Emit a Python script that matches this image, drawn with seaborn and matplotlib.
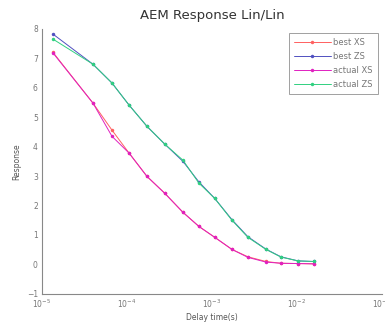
import numpy as np
import pandas as pd
import matplotlib
matplotlib.use("Agg")
import matplotlib.pyplot as plt
import seaborn as sns

times = [1.35e-5, 3.98e-5, 6.67e-5, 1.06e-4, 1.72e-4, 2.80e-4, 4.56e-4, 7.03e-4,
         1.08e-3, 1.72e-3, 2.65e-3, 4.32e-3, 6.48e-3, 1.03e-2, 1.58e-2]
best_xs = [7.20, 5.48, 4.56, 3.78, 2.99, 2.41, 1.77, 1.29, 0.92, 0.51, 0.26, 0.10, 0.04, 0.03, 0.02]
best_zs = [7.82, 6.80, 6.16, 5.41, 4.69, 4.08, 3.50, 2.80, 2.24, 1.52, 0.94, 0.52, 0.26, 0.12, 0.10]
actual_xs = [7.18, 5.48, 4.35, 3.78, 2.99, 2.41, 1.77, 1.29, 0.92, 0.51, 0.24, 0.08, 0.04, 0.03, 0.02]
actual_zs = [7.65, 6.80, 6.16, 5.41, 4.69, 4.08, 3.54, 2.76, 2.24, 1.50, 0.92, 0.51, 0.25, 0.12, 0.10]
series_names = ["best XS", "best ZS", "actual XS", "actual ZS"]
series_colors = ["#ff6060", "#5050c0", "#e020c0", "#30d080"]

frames = []
for name, vals in zip(series_names, [best_xs, best_zs, actual_xs, actual_zs]):
    frames.append(pd.DataFrame({"time": times, "value": vals, "series": name}))
df = pd.concat(frames, ignore_index=True)

sns.set_style("white")
plt.rcParams["font.family"] = ["DejaVu Sans"]

fig = plt.figure(figsize=(3.85, 3.28), dpi=100)
ax = fig.add_axes([0.109, 0.104, 0.883, 0.808])

sns.lineplot(data=df, x="time", y="value", hue="series", hue_order=series_names,
             palette=dict(zip(series_names, series_colors)), marker="o", markersize=2.5,
             markeredgewidth=0, linewidth=0.7, ax=ax, sort=False)

ax.set_xscale("log")
ax.set_xlim(1e-5, 1e-1)
ax.set_ylim(-1, 8)
ax.set_yticks(range(-1, 9))
ax.set_title("AEM Response Lin/Lin", fontsize=9.5, color="#333333", pad=7)
ax.set_xlabel("Delay time(s)", fontsize=5.5, color="#555555", labelpad=2)
ax.set_ylabel("Response", fontsize=5.5, color="#555555", labelpad=4)

for s in ["top", "right"]:
    ax.spines[s].set_visible(False)
for s in ["left", "bottom"]:
    ax.spines[s].set_color("#888888")
    ax.spines[s].set_linewidth(0.8)
ax.tick_params(axis="both", which="both", direction="in", colors="#888888",
               labelsize=5.5, labelcolor="#777777", width=0.6)
ax.tick_params(axis="both", which="major", length=3, pad=3)
ax.tick_params(axis="x", which="minor", length=2)
ax.xaxis.set_minor_locator(matplotlib.ticker.LogLocator(base=10, subs=np.arange(2, 10)))

leg = ax.legend(loc="upper right", fontsize=6, frameon=True, fancybox=False,
                edgecolor="#888888", handlelength=4.4, borderpad=0.6,
                labelspacing=0.6, handletextpad=0.3, bbox_to_anchor=(1.0, 1.0))
leg.get_frame().set_linewidth(0.7)
for t in leg.get_texts():
    t.set_color("#777777")

fig.savefig("out.png", dpi=100)
